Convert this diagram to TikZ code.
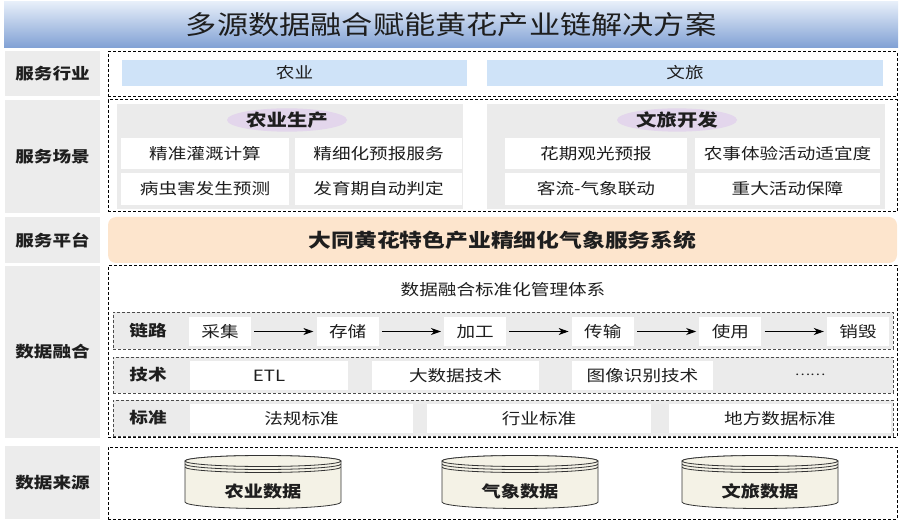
\documentclass[tikz,border=0pt]{standalone}
\usepackage{fontspec}
\setmainfont{Noto Sans CJK SC}[FakeStretch=1.2]
\usetikzlibrary{arrows.meta,shapes.geometric}

\definecolor{labgray}{RGB}{236,236,236}
\definecolor{pangray}{RGB}{235,235,235}
\definecolor{lightblue}{RGB}{207,227,248}
\definecolor{lilac}{RGB}{227,214,236}
\definecolor{peach}{RGB}{253,229,205}
\definecolor{cream}{RGB}{244,242,230}
\definecolor{titletop}{RGB}{230,238,249}
\definecolor{titlebot}{RGB}{128,160,212}
\definecolor{ink}{RGB}{30,30,30}

\newcommand{\fs}[1]{\fontsize{#1}{#1}\selectfont}

\tikzset{
  lab/.style={fill=labgray, minimum width=95, inner sep=0, text=ink, font=\bfseries\fs{15.5}},
  frame/.style={draw=black, dash pattern=on 3pt off 2pt, line width=1pt, inner sep=0, minimum width=789},
  subframe/.style={draw=black!70, dash pattern=on 3pt off 2pt, line width=0.9pt, fill=pangray, inner sep=0, minimum width=780, minimum height=36},
  cell/.style={fill=white, inner sep=0, text=ink, font=\fs{15.5}},
  bluecell/.style={cell, fill=lightblue, minimum height=26},
  panel/.style={fill=pangray, inner sep=0, minimum height=105},
  tag/.style={ellipse, fill=lilac, inner sep=0, minimum width=120, minimum height=16, text=ink, font=\bfseries\fs{17}},
  rowlab/.style={inner sep=0, text=ink, font=\bfseries\fs{15.5}},
  arr/.style={-{Stealth[length=10pt,width=7pt,inset=3pt]}, line width=1pt, shorten <=3pt, shorten >=3pt},
  cyl/.style={draw=black!80, line width=0.8pt, fill=cream}
}

\begin{document}
\begin{tikzpicture}[x=1pt,y=-1pt]
\useasboundingbox (0,0) rectangle (907,521);

% title
\node[minimum width=894, minimum height=46, inner sep=0, top color=titletop, bottom color=titlebot,
      text=ink, font=\fs{26}] (ttl) at (451,25) {多源数据融合赋能黄花产业链解决方案};

% left labels
\node[lab, minimum height=45]  (hy) at (52.5,73.5)  {服务行业};
\node[lab, minimum height=113] (cj) at (52.5,156.5) {服务场景};
\node[lab, minimum height=46]  (pt) at (52.5,240)   {服务平台};
\node[lab, minimum height=172] (rh) at (52.5,352)   {数据融合};
\node[lab, minimum height=73]  (ly) at (52.5,482.5) {数据来源};

% service industry
\node[frame, minimum height=45] (f1) at (502.5,74.5) {};
\node[bluecell, minimum width=345] (ny) at (294.5,73) {农业};
\node[bluecell, minimum width=396] (wl) at (685,73) {文旅};

% service scenes
\node[frame, minimum height=112] (f2) at (502.5,156) {};
\node[panel, minimum width=346] (pl) at (290,156.5) {};
\node[panel, minimum width=398] (pr) at (686,156.5) {};
\node[tag] (nysc) at (287,120) {农业生产};
\node[tag] (wlkf) at (677,120) {文旅开发};
\node[cell, minimum width=168, minimum height=31] (s1) at (205,153.5)   {精准灌溉计算};
\node[cell, minimum width=167, minimum height=31] (s2) at (378.5,153.5) {精细化预报服务};
\node[cell, minimum width=168, minimum height=32] (s3) at (205,189)     {病虫害发生预测};
\node[cell, minimum width=167, minimum height=32] (s4) at (378.5,189)   {发育期自动判定};
\node[cell, minimum width=182, minimum height=31] (s5) at (596,153.5)   {花期观光预报};
\node[cell, minimum width=185, minimum height=31] (s6) at (787.5,153.5) {农事体验活动适宜度};
\node[cell, minimum width=182, minimum height=32] (s7) at (596,189)     {客流-气象联动};
\node[cell, minimum width=185, minimum height=32] (s8) at (787.5,189)   {重大活动保障};

% platform
\node[fill=peach, rounded corners=8, minimum width=789, minimum height=46, inner sep=0,
      text=ink, font=\bfseries\fs{19}] (xt) at (502.5,240) {大同黄花特色产业精细化气象服务系统};

% data fusion
\node[frame, minimum height=171] (f4) at (502.5,351.5) {};
\node[cell, minimum width=780, minimum height=35] (gl) at (503,289.5) {数据融合标准化管理体系};
\node[subframe, minimum height=37] (lkf) at (503,330.5) {};
\node[subframe] (jsf) at (503,375) {};
\node[subframe] (bzf) at (503,418) {};
\node[rowlab] (lkl) at (148,330.5) {链路};
\node[rowlab] (jsl) at (148,375)   {技术};
\node[rowlab] (bzl) at (148,418)   {标准};

\foreach \t [count=\i] in {采集,存储,加工,传输,使用,销毁}
  \node[cell, minimum width=62, minimum height=29] (lk\i) at ({92.4+127.6*\i},331.5) {\t};
\foreach \i [remember=\i as \prev (initially 1)] in {2,...,6}
  \draw[arr] (lk\prev) -- (lk\i);

\node[cell, minimum width=158, minimum height=29] (js1) at (269,375.5)   {ETL};
\node[cell, minimum width=167, minimum height=29] (js2) at (455.5,375.5) {大数据技术};
\node[cell, minimum width=141, minimum height=29] (js3) at (642.5,375.5) {图像识别技术};
\node[inner sep=0, text=ink, font=\fs{12}] (js4) at (810,375) {……};

\node[cell, minimum width=223, minimum height=29] (bz1) at (301.5,418.5) {法规标准};
\node[cell, minimum width=224, minimum height=29] (bz2) at (539,418.5)   {行业标准};
\node[cell, minimum width=222, minimum height=29] (bz3) at (780,418.5)   {地方数据标准};

% data sources
\node[frame, minimum height=72] (f5) at (502.5,483) {};
\foreach \cx/\nm/\t in {263/nysj/农业数据, 520/qxsj/气象数据, 760/wlsj/文旅数据} {
  \filldraw[cyl] (\cx-78,461) -- (\cx-78,502)
    arc[start angle=180, end angle=0, x radius=78, y radius=6.5] -- (\cx+78,461)
    arc[start angle=0, end angle=-180, x radius=78, y radius=5.5] -- cycle;
  \draw[cyl] (\cx,461) ellipse[x radius=78, y radius=5.5];
  \draw[cyl, fill=none] (\cx-78,464) arc[start angle=180, end angle=0, x radius=78, y radius=5.5];
  \draw[cyl, fill=none] (\cx-78,467) arc[start angle=180, end angle=0, x radius=78, y radius=5.5];
  \node[text=ink, inner sep=0, font=\bfseries\fs{16}] (\nm) at (\cx,491) {\t};
}
\end{tikzpicture}
\end{document}
